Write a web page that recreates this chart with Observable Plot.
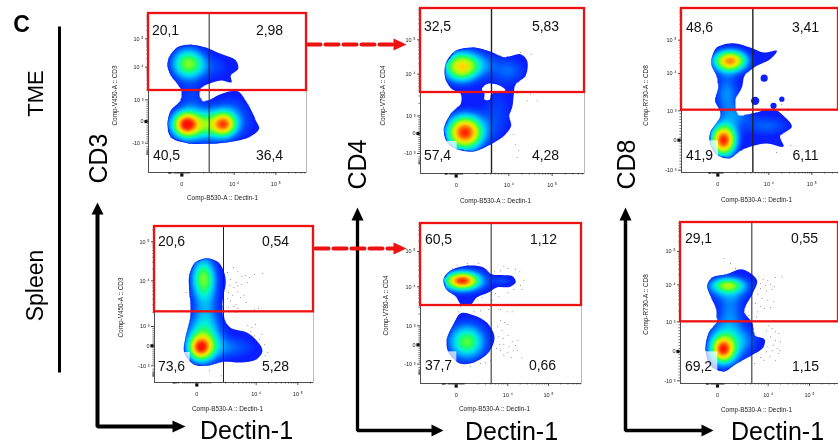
<!DOCTYPE html>
<html><head><meta charset="utf-8">
<script src="https://cdn.jsdelivr.net/npm/d3@7"></script>
<script src="https://cdn.jsdelivr.net/npm/@observablehq/plot@0.6"></script>
<style>
html,body{margin:0;padding:0;background:#fff;width:838px;height:446px;overflow:hidden}
#root{position:relative;width:838px;height:446px;filter:blur(.5px)}
#root svg{position:absolute;background:transparent;overflow:hidden}
</style></head><body><div id="root"></div>
<script>
// ---- values. Channels: FlowJo-style display units, 3 per screen pixel.
// Peaks: [x, y, spreadX, spreadY, level]; Outlines: [x, y]
const xTickLabels = ["0","10 \u2074","10 \u2075"];
const yTickLabels = ["10 \u2075","10 \u2074","10 \u00b3","0","-10 \u00b3"];

const outlineA = [[62,346],[87,376],[127,383],[177,373],[217,356],[262,336],[269,311],[247,291],[249,271],[217,276],[182,266],[157,254],[152,231],[162,213],[182,216],[207,231],[267,244],[297,206],[322,156],[332,131],[302,106],[237,91],[177,86],[117,88],[67,106],[57,146],[67,186],[97,216],[100,246],[87,266],[67,291],[57,321]];
const peaksA = [[119,326,36,34,.58],[205,315,40,30,.12],[112,144,26,26,.7],[227,144,24,24,.54],[170,144,58,32,.36],[170,142,100,40,.16],[127,226,28,30,.12],[250,190,40,40,.12]];

const outlineB = [[75,328],[105,368],[160,378],[210,365],[250,348],[300,358],[320,338],[315,293],[285,268],[280,238],[275,198],[265,173],[272,143],[250,113],[215,90],[160,66],[110,73],[80,93],[70,133],[90,178],[120,208],[120,240],[95,253],[75,283]];
const gapB = [[190,262],[205,270],[235,265],[255,250],[230,243],[212,238],[208,222],[192,222],[192,240],[184,253]];
const peaksB = [[122,320,38,32,.74],[133,123,38,36,.98],[270,308,36,30,.19],[230,178,36,62,.15],[190,330,38,28,.15]];
const paleB = [75,71,110,96];
const dotsB = [[330,238],[350,218],[320,218],[285,88],[295,68],[290,48],[280,118],[332,358],[300,363],[290,240]];

const outlineC = [[91,345],[106,375],[156,388],[206,375],[246,360],[286,365],[266,340],[226,320],[191,295],[181,255],[161,220],[161,195],[171,170],[206,175],[276,190],[306,170],[331,137],[296,110],[306,78],[256,87],[216,80],[176,65],[146,43],[111,50],[86,85],[86,120],[116,165],[116,185],[101,215],[111,255],[106,290],[91,320]];
const islandsC = [[248,283,3.3],[221,215,4.5],[301,220,1.8],[276,200,2.5]];
const peaksC = [[146,335,36,23,.84],[126,97,27,33,.98],[136,235,28,46,.26],[256,140,52,24,.2],[170,172,32,22,.16]];
const paleC = [78,45,111,95];
const dotsC = [[328,82],[285,60],[300,205],[320,185]];

const outlineD = [[104,320],[122,360],[157,373],[192,360],[209,330],[214,300],[205,250],[205,200],[227,165],[277,150],[307,125],[324,95],[307,70],[257,60],[207,63],[157,50],[117,55],[89,90],[92,130],[107,190],[109,230],[104,280]];
const peaksD = [[147,315,27,44,.52],[155,225,30,60,.18],[137,103,25,25,.62],[147,130,38,50,.42],[237,105,52,26,.19]];
const paleD = [89,50,107,90];
const dotsD = [[237,345],[250,332],[262,318],[219,330],[228,310],[245,300],[272,322],[285,316],[300,325],[325,328],[226,292],[238,285],[250,290],[262,295],[278,300],[222,270],[235,262],[250,272],[268,262],[220,252],[228,245],[244,235],[258,255],[275,240],[222,226],[238,228],[250,222],[262,215],[300,218],[312,222],[225,212],[245,210],[280,172],[292,165],[303,175],[288,152],[300,140],[315,130],[330,115],[322,145],[340,90],[332,80],[95,270],[110,262],[200,20],[165,35],[95,60]];

const outlineE1 = [[69,313],[89,338],[139,353],[189,348],[211,328],[249,325],[274,323],[286,305],[269,290],[229,288],[204,273],[169,258],[149,235],[124,235],[104,263],[77,283]];
const outlineE2 = [[121,211],[159,205],[199,183],[222,138],[204,93],[159,63],[119,60],[84,93],[79,133],[99,178]];
const peaksE = [[124,308,32,17,.62],[130,308,52,26,.36],[139,125,32,30,.28],[139,125,50,48,.27],[249,308,20,10,.14]];
const paleE = [81,66,109,95];
const dotsE = [[250,352],[262,345],[285,343],[298,335],[222,335],[240,338],[310,310],[300,295],[305,283],[225,270],[235,262],[262,272],[280,282],[215,250],[185,258],[175,360],[140,360],[110,355],[95,345],[260,215],[275,215],[240,222],[205,222],[180,218],[160,215],[120,230],[115,215],[240,190],[252,183],[262,178],[232,170],[245,160],[235,140],[248,135],[262,145],[275,125],[285,115],[265,112],[250,118],[238,118],[290,100],[278,98],[262,92],[250,85],[272,78],[304,77],[240,100],[228,105],[292,130],[180,60],[210,70],[195,62],[150,52]];

const outlineF = [[80,293],[95,318],[140,328],[180,343],[210,331],[230,308],[215,268],[195,233],[190,213],[215,183],[222,143],[252,133],[248,108],[210,83],[165,58],[130,36],[90,53],[75,103],[85,153],[110,185],[108,223],[90,263]];
const peaksF = [[142,295,32,14,.3],[142,290,52,26,.3],[150,223,30,44,.2],[127,101,23,26,.64],[135,118,42,48,.38],[200,130,36,30,.13]];
const paleF = [75,36,112,95];
const dotsF = [[130,375],[150,360],[165,345],[235,320],[248,312],[262,310],[285,318],[305,320],[240,300],[255,295],[270,298],[282,290],[240,285],[258,278],[275,283],[232,268],[245,255],[262,250],[280,245],[225,240],[240,232],[252,225],[270,228],[232,215],[205,205],[215,190],[228,200],[265,173],[275,165],[285,155],[295,150],[258,158],[270,140],[285,130],[300,125],[278,115],[262,110],[290,105],[275,98],[295,90],[258,95],[268,80],[285,70],[250,70],[240,78],[298,100],[222,60]];

const jetLevels = [.08,.18,.3,.4,.5,.62,.75,.87,1];
const jetColors = ["#0a1eff","#0050ff","#00b0ff","#00f0e0","#20ff60","#a0ff10","#ffe000","#ff8000","#ff1000"];

const panels = [
 {l:148,t:13,w:158,h:159,xt:[100,257,382],yt:[401,316,218,153,88],vx:182,gy:246,vw:1,outlines:[outlineA],peaks:peaksA,gaps:[],islands:[],pale:null,dots:[]},
 {l:420,t:8,w:164,h:165,xt:[107,265,395],yt:[401,298,173,120,60],vx:213,gy:243,vw:1.4,outlines:[outlineB],peaks:peaksB,gaps:[gapB],islands:[],pale:paleB,dots:dotsB},
 {l:681,t:8,w:157,h:164,xt:[109,262,391],yt:[397,297,185,97,7],vx:214,gy:187,vw:1.4,outlines:[outlineC],peaks:peaksC,gaps:[],islands:islandsC,pale:paleC,dots:dotsC},
 {l:154,t:226,w:159,h:156,xt:[127,305,430],yt:[422,305,168,110,50],vx:207,gy:212,vw:1,outlines:[outlineD],peaks:peaksD,gaps:[],islands:[],pale:paleD,dots:dotsD},
 {l:420,t:223,w:161,h:160,xt:[107,262,384],yt:[396,290,173,116,58],vx:212,gy:234,vw:1,outlines:[outlineE1,outlineE2],peaks:peaksE,gaps:[],islands:[],pale:paleE,dots:dotsE},
 {l:680,t:222,w:158,h:161,xt:[111,263,387],yt:[396,296,185,96,8],vx:214,gy:185,vw:1,outlines:[outlineF],peaks:peaksF,gaps:[],islands:[],pale:paleF,dots:dotsF}
];

// percentage labels, axis titles and annotations on the whole figure
const percents = [
 ["20,1",165,30],["2,98",269,30],["40,5",166,155],["36,4",269,155],
 ["32,5",437,26],["5,83",545,26],["57,4",437,155],["4,28",545,155],
 ["48,6",699,27],["3,41",805,27],["41,9",699,155],["6,11",805,155],
 ["20,6",171,241],["0,54",275,241],["73,6",171,366],["5,28",275,366],
 ["60,5",438,239],["1,12",543,239],["37,7",438,365],["0,66",542,365],
 ["29,1",698,238],["0,55",804,238],["69,2",698,366],["1,15",805,366]];
const xTitles = [[222,197,"Comp-B530-A :: Dectin-1"],[495,200,"Comp-B530-A :: Dectin-1"],[756,199,"Comp-B530-A :: Dectin-1"],[227,408,"Comp-B530-A :: Dectin-1"],[494,408,"Comp-B530-A :: Dectin-1"],[756,409,"Comp-B530-A :: Dectin-1"]];
const yTitles = [[114,95,"Comp-V450-A :: CD3"],[382,95,"Comp-V780-A :: CD4"],[645,95,"Comp-R730-A :: CD8"],[120,307,"Comp-V450-A :: CD3"],[385,305,"Comp-V780-A :: CD4"],[645,304,"Comp-R730-A :: CD8"]];
const bigRotated = [["TME",35,93,22],["Spleen",35,285,23],["CD3",98,158,25],["CD4",357,164,25],["CD8",626,164,25]];
const bigFlat = [["Dectin-1",246,430,25],["Dectin-1",511,431,25],["Dectin-1",777,431,25]];
const blackLines = [
 {id:"side",w:3,pts:[[59,26],[59,372]]},
 {id:"a",w:4,pts:[[97,212],[97,426],[174,426]]},
 {id:"b",w:3.3,pts:[[357,218],[357,430],[432,430]]},
 {id:"c",w:3.5,pts:[[625,218],[625,430],[702,430]]}];
const blackHeads = [
 [[97,202],[91,214],[103,214]],[[185,426],[172,420],[172,432]],
 [[357,207],[351,220],[363,220]],[[443,430],[431,424],[431,436]],
 [[625,207],[619,220],[631,220]],[[713,430],[701,424],[701,436]]];
const redLines = [{id:"t",pts:[[307,44],[394,44]]},{id:"b",pts:[[315,248],[394,248]]}];
const redHeads = [[[406,44],[393,38],[393,50]],[[406,248],[393,242],[393,254]]];

// ---- drawing
const root = document.getElementById("root");
const ML = 30, MB = 20, MT = 3, MR = 3;

function minorTicks(major, isY){
  // display axis ticks between the labelled decades
  const out = [];
  const frac = [2,3,4,5,6,7,8,9].map(Math.log10);
  if (isY){
    const [d5,d4,d3,z,n3] = major;
    for (const f of frac){ out.push(d4+(d5-d4)*f, d3+(d4-d3)*f); }
    for (let i=1;i<10;i++){ out.push(z+(d3-z)*i/10, z+(n3-z)*i/10); }
    const step=(z-n3);
    for (const f of frac){ const v=n3-step*f*.55; if(v>0) out.push(v); }
    for (const f of frac){ const v=d5+(d5-d4)*f; out.push(v); }
  } else {
    const [z,d4,d5] = major;
    const dec=d5-d4, d3=d4-dec*1.05;
    for (const f of frac){ out.push(d4+dec*f, d5+dec*f); out.push(d3+(d4-d3)*f); }
    const n3=z-(d3-z);
    for (let i=1;i<10;i++){ out.push(z+(d3-z)*i/10, z+(n3-z)*i/10); }
    for (const f of frac){ const v=n3-(z-n3)*f*.55; if(v>0) out.push(v); }
  }
  return out;
}

panels.forEach(p=>{
  const W=p.w*3, H=p.h*3;
  const field=(x,y)=>{
    if(!p.outlines.some(o=>d3.polygonContains(o,[x,y]))) return NaN;
    let v=0;
    for(const [cx,cy,sx,sy,a] of p.peaks){
      const dx=(x-cx)/sx, dy=(y-cy)/sy;
      v+=a*Math.exp(-(dx*dx+dy*dy)/2);
    }
    return v<jetLevels[0]?NaN:v;
  };
  const marks=[
    Plot.frame({stroke:"#aaa",strokeWidth:.8}),
    ...p.outlines.map(o=>Plot.line(o,{x:d=>d[0],y:d=>d[1],fill:jetColors[0],stroke:"none",curve:"catmull-rom-closed"})),
    Plot.dot(p.islands,{x:d=>d[0],y:d=>d[1],r:d=>d[2],fill:jetColors[0],stroke:"none"}),
    Plot.raster({fill:field,x1:0,x2:W,y1:0,y2:H,pixelSize:1}),
    ...p.gaps.map(o=>Plot.line(o,{x:d=>d[0],y:d=>d[1],fill:"#fff",stroke:"none",curve:"catmull-rom-closed"})),
    Plot.dot(p.dots,{x:d=>d[0],y:d=>d[1],r:.5,fill:"#777",stroke:"none"}),
  ];
  if(p.pale) marks.push(Plot.rect([p.pale],{x1:d=>d[0],y1:d=>d[1],x2:d=>d[2],y2:d=>d[3],fill:"#fff",fillOpacity:.72}));
  marks.push(
    Plot.ruleX([p.vx],{stroke:"#222",strokeWidth:p.vw}),
    Plot.ruleX([0],{stroke:"#333",strokeWidth:.8}),
    Plot.ruleY([0],{stroke:"#333",strokeWidth:.8}),
    Plot.axisX({ticks:minorTicks(p.xt,false).filter(v=>v>=0&&v<=W),tickSize:1.6,tickFormat:()=>null,label:null,stroke:"#222",strokeWidth:.6}),
    Plot.axisY({ticks:minorTicks(p.yt,true).filter(v=>v>=0&&v<=H),tickSize:1.6,tickFormat:()=>null,label:null,stroke:"#222",strokeWidth:.6}),
    Plot.axisX({ticks:p.xt,tickSize:3,tickPadding:7,label:null,fontSize:5.5,fill:"#222",stroke:"#222",strokeWidth:.8,
      tickFormat:d=>xTickLabels[p.xt.indexOf(d)],fontFamily:"Liberation Sans"}),
    Plot.axisY({ticks:p.yt,tickSize:3,tickPadding:2,label:null,fontSize:5.5,fill:"#222",stroke:"#222",strokeWidth:.8,
      tickFormat:d=>yTickLabels[p.yt.indexOf(d)],fontFamily:"Liberation Sans"}),
    Plot.dot([[p.xt[0],0]],{x:d=>d[0],y:d=>d[1],symbol:"square",r:1.8,fill:"#111",stroke:"none",dy:2.5}),
    Plot.dot([[0,p.yt[3]]],{x:d=>d[0],y:d=>d[1],symbol:"square",r:1.8,fill:"#111",stroke:"none",dx:-2.5}),
    Plot.rect([[0,p.gy]],{x1:d=>d[0],y1:d=>d[1],x2:W,y2:H,fill:"none",stroke:"#ee1111",strokeWidth:2.3})
  );
  const svg=Plot.plot({
    width:p.w+ML+MR,height:p.h+MT+MB,marginLeft:ML,marginRight:MR,marginTop:MT,marginBottom:MB,
    x:{domain:[0,W],axis:null},y:{domain:[0,H],axis:null},
    color:{type:"linear",domain:jetLevels,range:jetColors,clamp:true},
    style:{background:"transparent",fontFamily:"Liberation Sans"},
    marks
  });
  svg.style.left=(p.l-ML)+"px"; svg.style.top=(p.t-MT)+"px";
  root.appendChild(svg);
});

const page=Plot.plot({
  width:838,height:446,margin:0,
  x:{domain:[0,838],range:[0,838],axis:null},y:{domain:[0,446],range:[0,446],axis:null},
  style:{background:"transparent",fontFamily:"Liberation Sans"},
  marks:[
    ...blackLines.map(a=>Plot.line(a.pts,{x:d=>d[0],y:d=>d[1],stroke:"#000",strokeWidth:a.w,strokeLinejoin:"miter",strokeLinecap:"butt"})),
    ...blackHeads.map(h=>Plot.line(h,{x:d=>d[0],y:d=>d[1],fill:"#000",stroke:"none",curve:"linear-closed"})),
    ...redLines.map(a=>Plot.line(a.pts,{x:d=>d[0],y:d=>d[1],stroke:"#ee1111",strokeWidth:4,strokeDasharray:"13,5"})),
    ...redHeads.map(h=>Plot.line(h,{x:d=>d[0],y:d=>d[1],fill:"#ee1111",stroke:"none",curve:"linear-closed"})),
    Plot.text(percents,{x:d=>d[1],y:d=>d[2],text:d=>d[0],fontSize:14,fill:"#111"}),
    Plot.text(xTitles,{x:d=>d[0],y:d=>d[1],text:d=>d[2],fontSize:6.4,fill:"#222"}),
    Plot.text(yTitles,{x:d=>d[0],y:d=>d[1],text:d=>d[2],fontSize:6.4,fill:"#222",rotate:-90}),
    ...bigRotated.map(b=>Plot.text([b],{x:d=>d[1],y:d=>d[2],text:d=>d[0],fontSize:b[3],fill:"#000",rotate:-90})),
    ...bigFlat.map(b=>Plot.text([b],{x:d=>d[1],y:d=>d[2],text:d=>d[0],fontSize:b[3],fill:"#000"})),
    Plot.text([["C",21,24]],{x:d=>d[1],y:d=>d[2],text:d=>d[0],fontSize:23,fontWeight:"bold",fill:"#000"})
  ]
});
page.style.left="0";page.style.top="0";
root.appendChild(page);
</script></body></html>
